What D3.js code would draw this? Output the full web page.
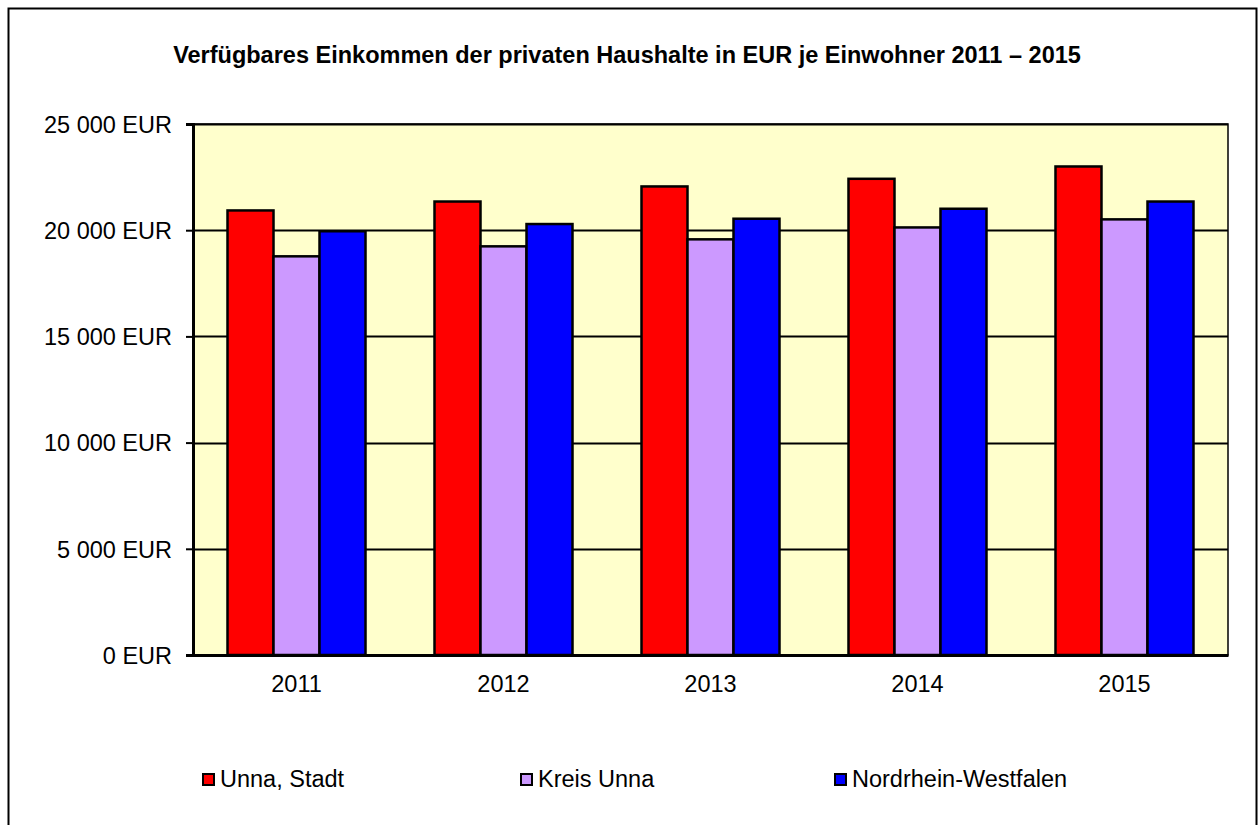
<!DOCTYPE html>
<html>
<head>
<meta charset="utf-8">
<script src="https://cdn.jsdelivr.net/npm/d3@7"></script>
<style>
  html, body { margin: 0; padding: 0; background: #fff; }
  svg text { font-family: Arial, "Liberation Sans", sans-serif; fill: #000; }
</style>
</head>
<body>
<svg id="chart" width="1259" height="825"></svg>
<script>
// Disposable income of private households, EUR per inhabitant
const years = ["2011", "2012", "2013", "2014", "2015"];
const seriesNames = ["Unna, Stadt", "Kreis Unna", "Nordrhein-Westfalen"];
const unnaStadt = [20930, 21350, 22060, 22420, 23000];
const kreisUnna = [18770, 19240, 19570, 20130, 20510];
const nrw = [19950, 20290, 20540, 21010, 21350];
const seriesColors = ["#ff0000", "#cc99ff", "#0000ff"];
const yTicks = [0, 5000, 10000, 15000, 20000, 25000];
const titleText = "Verfügbares Einkommen der privaten Haushalte in EUR je Einwohner 2011 – 2015";

const seriesValues = [unnaStadt, kreisUnna, nrw];
const FONT = "Arial, 'Liberation Sans', sans-serif";

const svg = d3.select("#chart");

// outer frame
svg.append("rect")
  .attr("x", 8.5).attr("y", 8.5)
  .attr("width", 1248).attr("height", 830)
  .attr("fill", "#fff").attr("stroke", "#000").attr("stroke-width", 2);

const plot = { left: 193, right: 1228, top: 124, bottom: 655 };

const x = d3.scaleBand().domain(years).range([plot.left, plot.right]).paddingInner(0.3333).paddingOuter(0.1667);
const xs = d3.scaleBand().domain(seriesNames).range([0, x.bandwidth()]);
const y = d3.scaleLinear().domain([0, 25000]).range([plot.bottom, plot.top]);

// plot background
svg.append("rect")
  .attr("x", plot.left).attr("y", plot.top)
  .attr("width", plot.right - plot.left).attr("height", plot.bottom - plot.top)
  .attr("fill", "#ffffcc");

// gridlines
svg.append("g").selectAll("line")
  .data(yTicks.filter(d => d > 0))
  .join("line")
  .attr("x1", plot.left).attr("x2", plot.right)
  .attr("y1", d => Math.round(y(d)) + 0.5).attr("y2", d => Math.round(y(d)) + 0.5)
  .attr("stroke", "#000").attr("stroke-width", 2);

// bars
const groups = svg.append("g").selectAll("g")
  .data(years)
  .join("g")
  .attr("transform", d => `translate(${x(d)},0)`);

groups.selectAll("rect")
  .data((yr, i) => seriesNames.map((s, j) => ({ s, v: seriesValues[j][i], c: seriesColors[j] })))
  .join("rect")
  .attr("x", d => xs(d.s))
  .attr("y", d => y(d.v))
  .attr("width", xs.bandwidth())
  .attr("height", d => y(0) - y(d.v))
  .attr("fill", d => d.c)
  .attr("stroke", "#000").attr("stroke-width", 2.5);

// plot border
svg.append("rect")
  .attr("x", plot.left).attr("y", plot.top)
  .attr("width", plot.right - plot.left).attr("height", plot.bottom - plot.top)
  .attr("fill", "none").attr("stroke", "#000").attr("stroke-width", 1.5);

// y axis
const fmt = d => d3.format(",")(d).replace(/,/g, " ") + " EUR";
const yAxis = svg.append("g")
  .attr("transform", `translate(${plot.left},0)`)
  .call(d3.axisLeft(y).tickValues(yTicks).tickFormat(fmt).tickSize(7).tickPadding(14));
yAxis.select(".domain").attr("stroke", "#000").attr("stroke-width", 3);
yAxis.selectAll(".tick line").attr("stroke", "#000").attr("stroke-width", 2);
yAxis.selectAll(".tick text").attr("font-size", 23.5).attr("font-family", FONT).attr("dy", "0.35em");

// x axis
const xAxis = svg.append("g")
  .attr("transform", `translate(0,${plot.bottom})`)
  .call(d3.axisBottom(x).tickSize(0).tickPadding(20));
xAxis.select(".domain").attr("stroke", "#000").attr("stroke-width", 3);
xAxis.selectAll(".tick text").attr("font-size", 23.5).attr("font-family", FONT);

// title
svg.append("text")
  .attr("x", 627).attr("y", 63)
  .attr("text-anchor", "middle")
  .attr("font-size", 23.5).attr("font-weight", "bold")
  .attr("font-family", FONT)
  .text(titleText);

// legend
const legendX = [202, 520, 834];
const legend = svg.append("g").selectAll("g")
  .data(seriesNames)
  .join("g")
  .attr("transform", (d, i) => `translate(${legendX[i]},773)`);
legend.append("rect")
  .attr("x", 1).attr("y", 1).attr("width", 11).attr("height", 11)
  .attr("fill", (d, i) => seriesColors[i])
  .attr("stroke", "#000").attr("stroke-width", 2);
legend.append("text")
  .attr("x", 18).attr("y", 14)
  .attr("font-size", 23.5)
  .attr("font-family", FONT)
  .text(d => d);
</script>
</body>
</html>
